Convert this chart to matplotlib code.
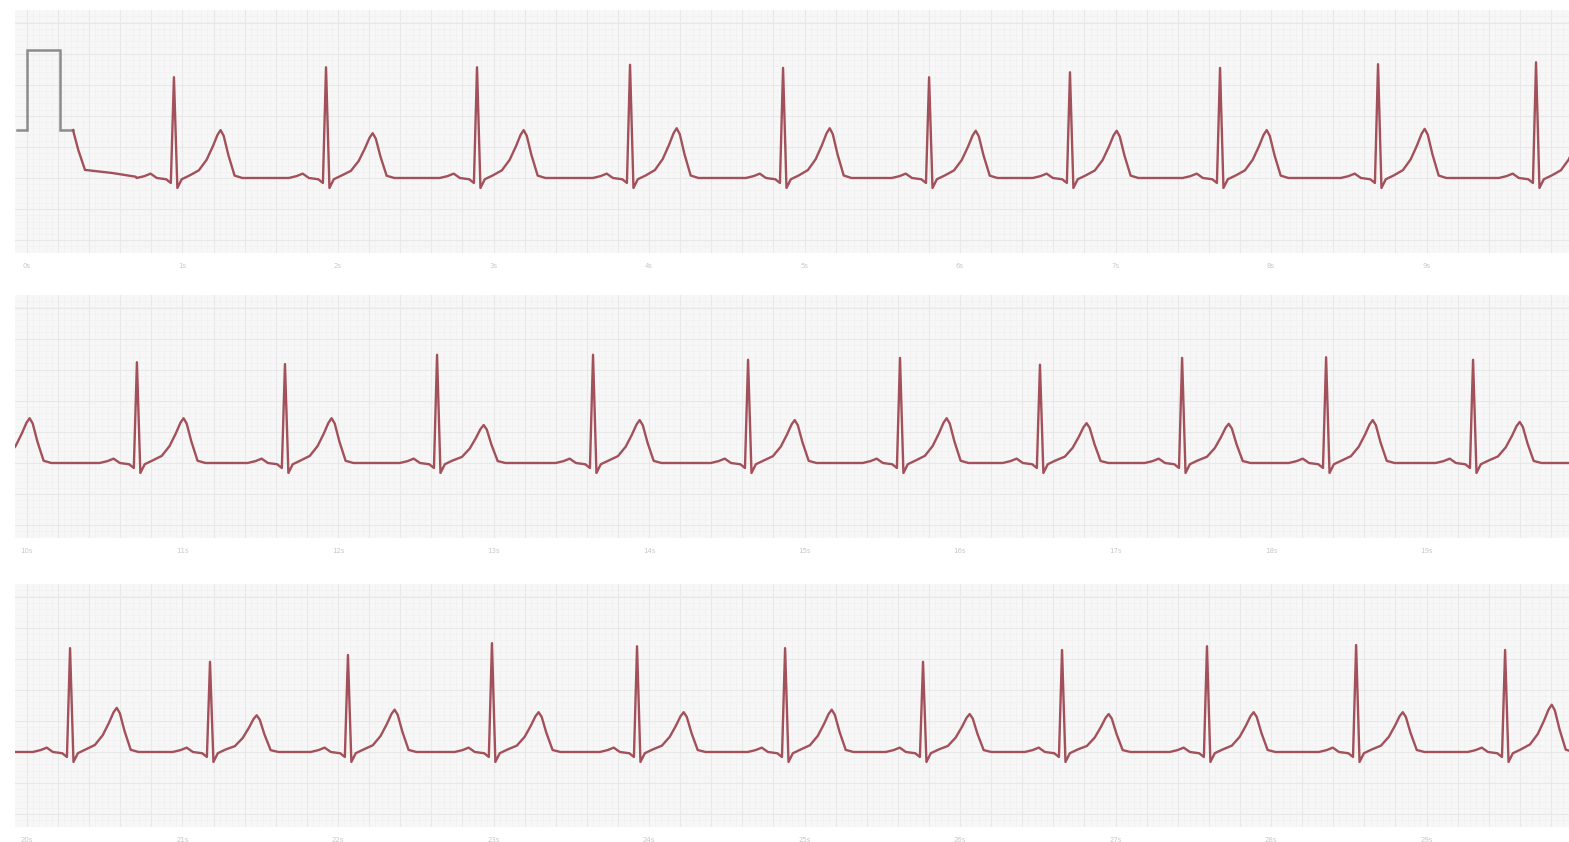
import matplotlib
matplotlib.use('Agg')
import matplotlib.pyplot as plt
import numpy as np

# 25 mm/s paper, values read from the strip (seconds, mV)
PX_PER_S = 155.5

# row 1: calibration pulse then beats
cal_t = [-0.064, 0.0, 0.0, 0.212, 0.212, 0.296]
cal_v = [0.77, 0.77, 2.06, 2.06, 0.77, 0.77]
recover_t = [0.296, 0.33, 0.373, 0.55, 0.70]
recover_v = [0.77, 0.45, 0.13, 0.08, 0.02]

r1_time = [0.945, 1.923, 2.894, 3.878, 4.862, 5.801, 6.707, 7.672, 8.688, 9.704]
r1_amp = [1.62, 1.78, 1.78, 1.82, 1.77, 1.62, 1.70, 1.77, 1.83, 1.86]
t1_amp = [0.77, 0.72, 0.77, 0.80, 0.80, 0.76, 0.76, 0.77, 0.79, 0.78]

r2_time = [-0.283, 0.707, 1.659, 2.637, 3.640, 4.637, 5.614, 6.514, 7.428, 8.354, 9.299]
r2_amp = [1.65, 1.62, 1.59, 1.74, 1.74, 1.66, 1.69, 1.58, 1.69, 1.70, 1.66]
t2_amp = [0.72, 0.72, 0.72, 0.61, 0.69, 0.69, 0.72, 0.64, 0.63, 0.69, 0.66]

r3_time = [0.277, 1.177, 2.064, 2.990, 3.923, 4.875, 5.762, 6.656, 7.588, 8.547, 9.505]
r3_amp = [1.67, 1.45, 1.56, 1.75, 1.70, 1.67, 1.45, 1.64, 1.70, 1.72, 1.64]
t3_amp = [0.71, 0.59, 0.68, 0.64, 0.64, 0.68, 0.61, 0.61, 0.64, 0.64, 0.76]

# one beat, offsets from the R peak (s)
# beat_kind: '' = value in mV, 'R' = times R amplitude, 'T' = times T amplitude
beat_dt = [-0.24, -0.19, -0.15, -0.11, -0.05, -0.02, 0.0, 0.022, 0.05, 0.10, 0.16, 0.21, 0.25, 0.28, 0.30, 0.32, 0.35, 0.39, 0.44]
beat_v = [0.0, 0.03, 0.07, 0.0, -0.02, -0.08, 1.0, -0.16, -0.02, 0.04, 0.16, 0.38, 0.66, 0.9, 1.0, 0.88, 0.48, 0.05, 0.0]
beat_kind = ['', '', '', '', '', '', 'R', '', '', '', 'T', 'T', 'T', 'T', 'T', 'T', 'T', 'T', '']

row_labels = [[f'{k}s' for k in range(0, 10)],
              [f'{k}s' for k in range(10, 20)],
              [f'{k}s' for k in range(20, 30)]]

trace_col = '#a2505a'
X0, X1 = -0.077, 9.916
Y0, Y1 = -1.2, 2.7


def build(r_time, r_amp, t_amp):
    t, v = [], []
    for rt, ra, ta in zip(r_time, r_amp, t_amp):
        for dt, bv, kind in zip(beat_dt, beat_v, beat_kind):
            t.append(rt + dt)
            scale = ra if kind == 'R' else ta if kind == 'T' else 1.0
            v.append(bv * scale)
    return t, v


W, H = 1569, 842
fig = plt.figure(figsize=(W / 100, H / 100), dpi=100)
fig.patch.set_facecolor('white')

baselines = [178, 463, 752]
rows = [(r1_time, r1_amp, t1_amp), (r2_time, r2_amp, t2_amp), (r3_time, r3_amp, t3_amp)]
mv_px = 62.2

for i, (base, data) in enumerate(zip(baselines, rows)):
    bottom = base - Y0 * mv_px
    top = base - Y1 * mv_px
    left = 15
    ax = fig.add_axes([left / W, 1 - bottom / H, (W - left) / W, (bottom - top) / H])
    ax.set_facecolor('#f7f7f7')
    ax.set_xlim(X0, X1)
    ax.set_ylim(Y0, Y1)

    # paper grid
    for x in np.arange(0, X1, 0.04):
        ax.axvline(x, color='#f0f0f0', lw=0.5, zorder=0)
    for x in np.arange(-0.4, X1, 0.2):
        ax.axvline(x, color='#e8e8e8', lw=0.8, zorder=0)
    for y in np.arange(-1.2, Y1, 0.1):
        ax.axhline(y, color='#f0f0f0', lw=0.5, zorder=0)
    for y in np.arange(-1.0, Y1, 0.5):
        ax.axhline(y, color='#e8e8e8', lw=0.8, zorder=0)

    t, v = build(*data)
    if i == 0:
        ax.plot(cal_t, cal_v, color='#8c8c8c', lw=1.8, solid_joinstyle='miter', zorder=3)
        t = recover_t + t
        v = recover_v + v
    else:
        t = [X0 - 0.1] + t + [X1 + 0.5]
        v = [0.0] + v + [0.0]
    ax.plot(t, v, color=trace_col, lw=1.7, solid_joinstyle='round', zorder=3)

    for s in ax.spines.values():
        s.set_visible(False)
    ax.set_xticks([])
    ax.set_yticks([])

    for k, lab in enumerate(row_labels[i]):
        ax.text(k, Y0 - 13 / mv_px, lab, ha='center', va='center',
                fontsize=5, color='#c8c8c8', clip_on=False)

fig.savefig('out.png', dpi=100, facecolor='white')
